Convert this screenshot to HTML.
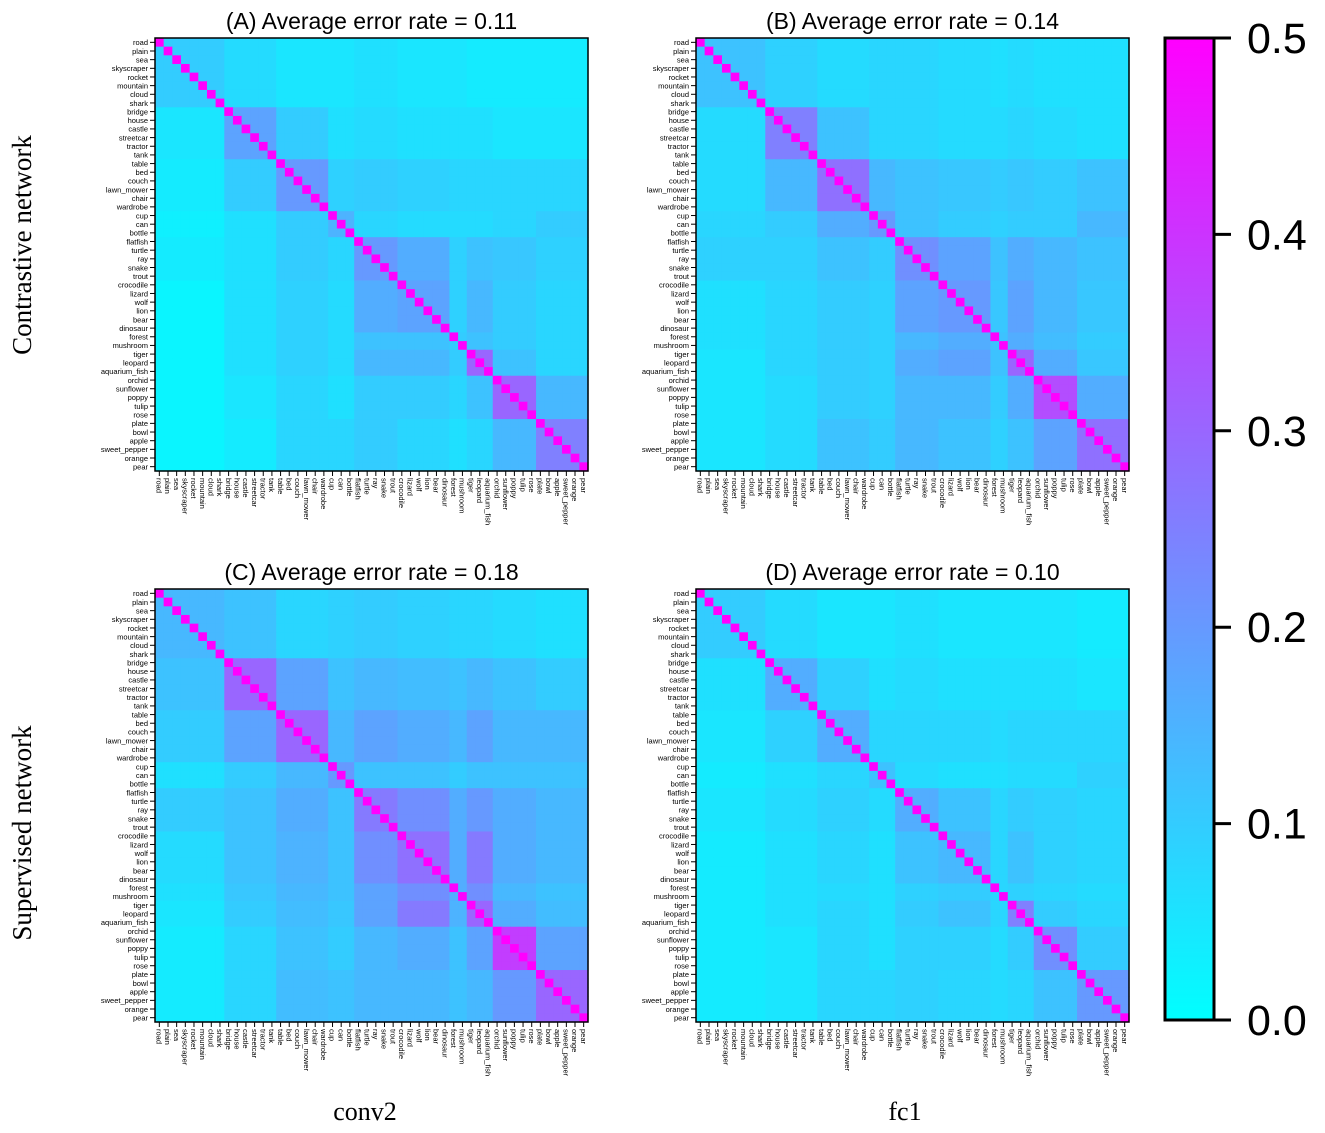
<!DOCTYPE html>
<html><head><meta charset="utf-8"><style>
html,body{margin:0;padding:0;background:#fff;}
svg{display:block;}
</style></head><body>
<svg id="fig" width="1325" height="1133" xmlns="http://www.w3.org/2000/svg">
<defs><linearGradient id="cg" x1="0" y1="1" x2="0" y2="0"><stop offset="0" stop-color="rgb(0,255,255)"/><stop offset="1" stop-color="rgb(255,0,255)"/></linearGradient></defs>
<text x="31" y="245" font-family="Liberation Serif, serif" font-size="27" text-anchor="middle" transform="rotate(-90 31 245)">Contrastive network</text>
<text x="31" y="833" font-family="Liberation Serif, serif" font-size="27" text-anchor="middle" transform="rotate(-90 31 833)">Supervised network</text>
<text x="365" y="1120" font-family="Liberation Serif, serif" font-size="26" text-anchor="middle">conv2</text>
<text x="905" y="1120" font-family="Liberation Serif, serif" font-size="26" text-anchor="middle">fc1</text>
<g id="cbar">
<rect x="1165" y="38" width="49" height="982" fill="url(#cg)" stroke="#000" stroke-width="3"/>
</g>
</svg>
<script>
const categories=["road","plain","sea","skyscraper","rocket","mountain","cloud","shark","bridge","house","castle","streetcar","tractor","tank","table","bed","couch","lawn_mower","chair","wardrobe","cup","can","bottle","flatfish","turtle","ray","snake","trout","crocodile","lizard","wolf","lion","bear","dinosaur","forest","mushroom","tiger","leopard","aquarium_fish","orchid","sunflower","poppy","tulip","rose","plate","bowl","apple","sweet_pepper","orange","pear"];
const groupOf=[0,0,0,0,0,0,0,0,1,1,1,1,1,1,2,2,2,2,2,2,3,3,3,4,4,4,4,4,5,5,5,5,5,5,6,6,7,7,7,8,8,8,8,8,9,9,9,9,9,9];
const titles=["(A) Average error rate = 0.11","(B) Average error rate = 0.14","(C) Average error rate = 0.18","(D) Average error rate = 0.10"];
const cbTicks=[0,0.1,0.2,0.3,0.4,0.5];
const diagValue=0.5;
const blocksA=[[10,7,5,5,6,5,5,4,4,4],[5,18,10,6,7,6,6,6,5,5],[4,10,20,9,10,9,8,8,8,8],[3,6,10,15,8,7,7,7,8,10],[4,6,10,8,20,16,9,12,11,9],[2,6,9,7,16,18,9,14,10,8],[2,6,9,7,12,12,10,12,10,8],[2,6,9,7,14,14,10,30,12,8],[2,5,8,6,10,10,8,12,30,14],[2,4,8,8,10,8,6,8,14,25]];
const blocksB=[[12,9,7,8,8,7,6,7,6,6],[7,25,12,8,8,7,7,8,7,6],[7,14,28,14,12,11,10,11,10,12],[8,10,16,20,12,10,9,10,10,14],[9,9,12,10,22,18,12,16,14,12],[6,8,10,9,18,20,11,18,14,11],[6,8,10,9,14,16,12,16,13,10],[5,8,10,9,16,18,12,30,16,11],[5,7,10,9,14,14,10,16,35,16],[5,7,12,10,14,12,9,12,18,28]];
const blocksC=[[14,12,8,9,10,9,8,8,7,6],[12,30,18,12,14,13,12,14,12,10],[10,18,30,14,18,16,14,18,14,14],[6,10,14,20,12,12,10,12,12,12],[10,12,16,12,26,22,16,20,16,14],[7,12,15,12,22,28,16,26,16,14],[6,11,14,12,18,22,16,22,14,12],[5,10,13,11,18,26,15,30,16,13],[4,8,12,10,14,16,12,18,38,18],[4,8,13,12,14,14,12,14,20,30]];
const blocksD=[[10,7,5,5,6,5,5,5,5,4],[6,16,9,6,7,6,6,6,6,5],[5,9,16,8,8,8,7,8,8,8],[4,6,8,12,7,6,6,7,7,9],[5,7,9,7,16,12,8,10,9,8],[4,6,8,6,12,14,8,12,9,8],[4,6,7,6,9,10,8,9,8,7],[4,6,8,6,10,12,8,25,10,8],[4,5,8,6,9,9,7,10,22,10],[4,5,8,8,9,8,7,8,12,20]];
const panelData=[blocksA,blocksB,blocksC,blocksD];
const NS="http://www.w3.org/2000/svg";
const svg=document.getElementById('fig');
const SIZE=433, VMAX=0.5;
const origins=[[155,38],[696,38],[155,589],[696,589]];
const panelNames=['a','b','c','d'];
function color(v){const t=Math.max(0,Math.min(1,v/VMAX));return `rgb(${Math.round(255*t)},${Math.round(255*(1-t))},255)`;}
function mk(tag,attrs){const e=document.createElementNS(NS,tag);for(const k in attrs)e.setAttribute(k,attrs[k]);return e;}
const n=categories.length;
panelData.forEach((blocks,p)=>{
  const [ox,oy]=origins[p];
  const cs=SIZE/n;
  const xs=i=>ox+i*cs, ys=i=>oy+i*cs;
  const g=mk('g',{});
  
  
  svg.appendChild(g);
  for(let r=0;r<n;r++)for(let c=0;c<n;c++){
    const v=r===c?diagValue:blocks[groupOf[r]][groupOf[c]]/100;
    const rc=mk('rect',{x:xs(c).toFixed(2),y:ys(r).toFixed(2),width:(cs+0.6).toFixed(2),height:(cs+0.6).toFixed(2),fill:color(v)});
    
    
    g.appendChild(rc);
  }
  const fr=mk('rect',{x:ox,y:oy,width:SIZE,height:SIZE,fill:'none',stroke:'#000','stroke-width':1.5});
  
  
  g.appendChild(fr);
  const t=mk('text',{x:ox+SIZE/2,y:oy-9,'font-family':'Liberation Sans, sans-serif','font-size':23,'text-anchor':'middle'});
  t.textContent=titles[p];
  
  
  g.appendChild(t);
  for(let i=0;i<n;i++){
    const cy=ys(i)+cs/2, cx=xs(i)+cs/2;
    g.appendChild(mk('line',{x1:ox-5,y1:cy,x2:ox,y2:cy,stroke:'#000','stroke-width':1}));
    g.appendChild(mk('line',{x1:cx,y1:oy+SIZE,x2:cx,y2:oy+SIZE+5,stroke:'#000','stroke-width':1}));
    const yl=mk('text',{x:ox-7,y:cy+2.8,'font-family':'Liberation Sans, sans-serif','font-size':7.5,'text-anchor':'end'});
    yl.textContent=categories[i];
    
    
    g.appendChild(yl);
    const xl=mk('text',{x:cx-2.8,y:oy+SIZE+7,'font-family':'Liberation Sans, sans-serif','font-size':7.5,'text-anchor':'start',transform:`rotate(90 ${cx-2.8} ${oy+SIZE+7})`});
    xl.textContent=categories[i];
    
    
    g.appendChild(xl);
  }
});
const cb=document.getElementById('cbar');
const cbTop=38,cbBot=1020;
cbTicks.forEach(v=>{
  const y=cbBot-(v/VMAX)*(cbBot-cbTop);
  cb.appendChild(mk('line',{x1:1214,y1:y,x2:1231,y2:y,stroke:'#000','stroke-width':3}));
  const tl=mk('text',{x:1247,y:y+15,'font-family':'Liberation Sans, sans-serif','font-size':43});
  tl.textContent=v.toFixed(1);
  
  
  cb.appendChild(tl);
});
</script>
</body></html>
